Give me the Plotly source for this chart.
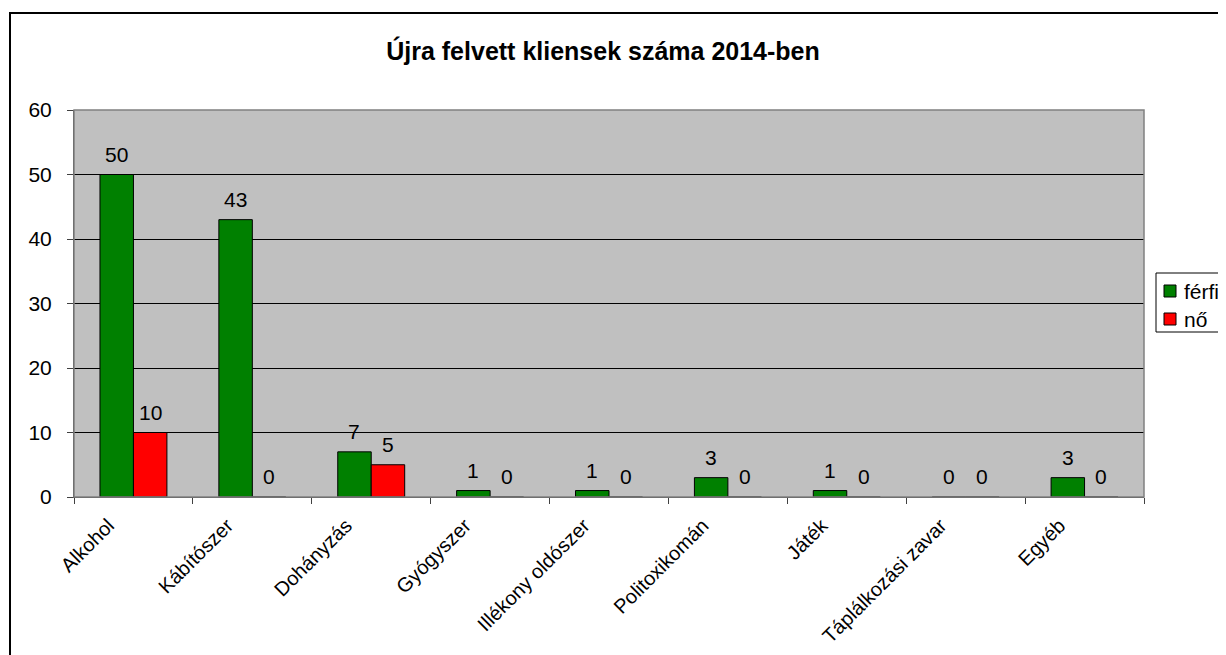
import plotly.graph_objects as go

categories = ["Alkohol", "Kábítószer", "Dohányzás", "Gyógyszer", "Illékony oldószer",
              "Politoxikomán", "Játék", "Táplálkozási zavar", "Egyéb"]
series_names = ["férfi", "nő"]
ferfi = [50, 43, 7, 1, 1, 3, 1, 0, 3]
no = [10, 0, 5, 0, 0, 0, 0, 0, 0]
y_ticks = [0, 10, 20, 30, 40, 50, 60]
title_text = "Újra felvett kliensek száma 2014-ben"
colors = ["#008000", "#FF0000"]

FONT = "Arial, Liberation Sans, sans-serif"
FS = 21
BARGAP = 0.437

# page body has an 8px margin: figure coords = reference coords - 8
OFF = 8
W, H = 1226 - OFF, 655 - OFF
L, R, T, B = 74 - OFF, 1144 - OFF, 110 - OFF, 497 - OFF
pw, ph = R - L, B - T

def px(x):
    return (x - OFF - L) / pw

def py(y):
    return (B - (y - OFF)) / ph

fig = go.Figure()
for name, vals, col in zip(series_names, [ferfi, no], colors):
    fig.add_trace(go.Bar(name=name, x=categories, y=vals,
                         marker=dict(color=col, line=dict(color="#000000", width=1)),
                         showlegend=False))

annotations = []
# value labels above each bar, placed through the axes
cat_px = pw / len(categories)
half = cat_px * (1 - BARGAP) / 4
for k, vals in enumerate([ferfi, no]):
    shift = -half if k == 0 else half
    for c, v in zip(categories, vals):
        annotations.append(dict(text=str(v), xref="x", yref="y", x=c, y=v, xshift=shift, yshift=7,
                                xanchor="center", yanchor="bottom", showarrow=False,
                                font=dict(family=FONT, size=FS, color="#000000")))

shapes = [
    dict(type="rect", xref="paper", yref="paper", x0=0, x1=1, y0=0, y1=1,
         line=dict(color="#808080", width=1.5), layer="above"),
    dict(type="rect", xref="paper", yref="paper", x0=px(10), x1=px(1400), y0=py(900), y1=py(13),
         line=dict(color="#000000", width=2), layer="below"),
    # legend box
    dict(type="rect", xref="paper", yref="paper", x0=px(1156), x1=px(1300), y0=py(332), y1=py(273),
         line=dict(color="#000000", width=1), fillcolor="#FFFFFF", layer="above"),
]
leg_rows = [291, 319]
for name, col, yc in zip(series_names, colors, leg_rows):
    shapes.append(dict(type="rect", xref="paper", yref="paper", x0=px(1164), x1=px(1176),
                       y0=py(yc + 6), y1=py(yc - 6), line=dict(color="#000000", width=1),
                       fillcolor=col, layer="above"))
    annotations.append(dict(text=name, xref="paper", yref="paper", x=px(1182), y=py(yc),
                            xanchor="left", yanchor="middle", showarrow=False,
                            font=dict(family=FONT, size=FS, color="#000000")))

fig.update_layout(
    width=W, height=H,
    margin=dict(l=L, r=W - R, t=T, b=H - B, autoexpand=False, pad=0),
    paper_bgcolor="#FFFFFF",
    plot_bgcolor="#C0C0C0",
    barmode="group",
    bargap=BARGAP,
    bargroupgap=0,
    font=dict(family=FONT, size=FS, color="#000000"),
    title=dict(text="<b>" + title_text + "</b>", x=(603 - OFF) / W, xref="container",
               y=1 - (51 - OFF) / H, yref="container",
               xanchor="center", yanchor="middle", font=dict(family=FONT, size=25, color="#000000")),
    showlegend=False,
    xaxis=dict(type="category", tickson="boundaries", ticks="outside", ticklen=6, tickcolor="#404040",
               tickangle=-45, showline=True, linecolor="#404040", linewidth=1,
               ticklabelstandoff=8, ticklabelshift=-25,
               tickfont=dict(family=FONT, size=20, color="#000000"), showgrid=False),
    yaxis=dict(range=[0, 60], tickvals=y_ticks, ticks="outside", ticklen=6, tickcolor="#404040",
               showline=True, linecolor="#404040", linewidth=1, showgrid=True, gridcolor="#000000",
               gridwidth=1, zeroline=False, ticklabelstandoff=11,
               tickfont=dict(family=FONT, size=FS, color="#000000")),
    shapes=shapes,
    annotations=annotations,
)

fig.write_html("out.html")
